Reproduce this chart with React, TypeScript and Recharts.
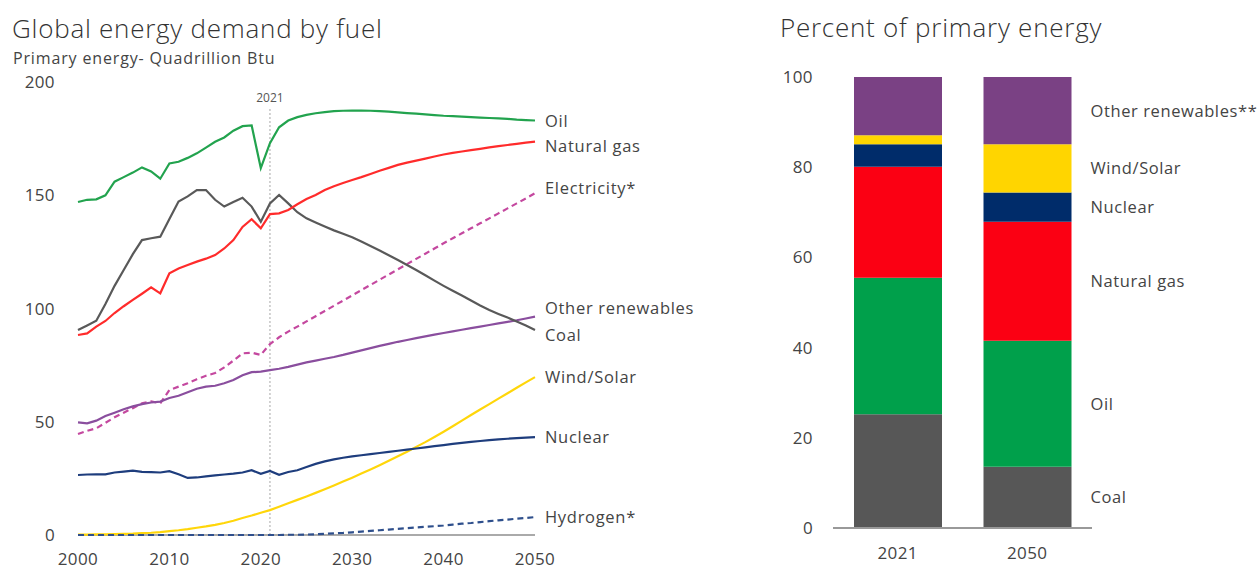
import React from 'react';
import { LineChart, Line, XAxis, YAxis, ReferenceLine, LabelList, BarChart, Bar } from 'recharts';

const years = [
  2000, 2001, 2002, 2003, 2004, 2005, 2006, 2007, 2008, 2009,
  2010, 2011, 2012, 2013, 2014, 2015, 2016, 2017, 2018, 2019,
  2020, 2021, 2022, 2023, 2024, 2025, 2026, 2027, 2028, 2029,
  2030, 2031, 2032, 2033, 2034, 2035, 2036, 2037, 2038, 2039,
  2040, 2041, 2042, 2043, 2044, 2045, 2046, 2047, 2048, 2049, 2050,
];

const oil = [
  147, 148, 148.2, 150, 156, 158, 160, 162.3, 160.5, 157.3,
  164, 164.8, 166.5, 168.5, 171, 173.6, 175.5, 178.5, 180.5, 180.8,
  162, 173, 180, 183, 184.5, 185.5, 186.2, 186.7, 187.1, 187.3,
  187.4, 187.4, 187.3, 187.1, 186.9, 186.6, 186.3, 186, 185.7, 185.4,
  185.1, 184.9, 184.7, 184.5, 184.3, 184.1, 183.9, 183.7, 183.4, 183.2, 183,
];

const naturalGas = [
  88.3, 89, 92, 94.5, 98, 101, 103.8, 106.5, 109.3, 106.7,
  115.5, 117.7, 119.2, 120.7, 122, 123.6, 126.5, 130.2, 136, 139.4,
  135.4, 141.7, 142, 143.5, 146, 148.3, 150.1, 152.3, 154, 155.4,
  156.7, 158, 159.4, 160.8, 162.1, 163.4, 164.4, 165.3, 166.2, 167.1,
  168, 168.7, 169.3, 169.9, 170.5, 171.1, 171.7, 172.2, 172.7, 173.2, 173.7,
];

const coal = [
  90.5, 92.5, 94.6, 102, 110, 117, 124, 130.2, 131, 131.7,
  139.5, 147.2, 149.5, 152.3, 152.3, 148, 145, 147, 148.9, 145,
  138.3, 146.4, 150.1, 146.4, 142.5, 139.8, 138, 136.2, 134.5, 133,
  131.5, 129.6, 127.6, 125.6, 123.5, 121.4, 119.2, 117, 114.7, 112.3,
  110, 107.8, 105.7, 103.5, 101.3, 99.3, 97.6, 96, 94.3, 92.5, 90.5,
];

const electricity = [
  44.6, 46, 47.1, 49.5, 52, 54, 56, 58.1, 59, 58.1,
  64, 65.5, 67, 68.8, 70.3, 71.5, 74, 77, 80.2, 80.5,
  79.5, 84.3, 87.3, 89.8, 92, 94.3, 96.6, 98.9, 101.2, 103.5,
  105.8, 108.1, 110.4, 112.7, 115, 117.3, 119.6, 121.9, 124.2, 126.5,
  128.8, 131, 133.2, 135.4, 137.6, 139.8, 142, 144.2, 146.4, 148.6, 150.9,
];

const otherRenewables = [
  49.7, 49.3, 50.5, 52.5, 54, 55.5, 56.8, 57.8, 58.5, 58.9,
  60.5, 61.5, 63, 64.6, 65.5, 65.9, 67, 68.4, 70.5, 71.9,
  72.1, 72.8, 73.4, 74.2, 75.2, 76.2, 77, 77.8, 78.6, 79.5,
  80.5, 81.5, 82.5, 83.5, 84.4, 85.3, 86.1, 86.9, 87.7, 88.5,
  89.2, 89.9, 90.6, 91.3, 92, 92.7, 93.4, 94.1, 94.8, 95.6, 96.4,
];

const windSolar = [
  0.2, 0.2, 0.3, 0.3, 0.4, 0.5, 0.6, 0.8, 1, 1.3,
  1.7, 2.1, 2.6, 3.2, 3.8, 4.5, 5.3, 6.3, 7.5, 8.6,
  9.8, 11, 12.5, 14, 15.5, 17, 18.6, 20.2, 21.9, 23.6,
  25.3, 27.1, 28.9, 30.8, 32.8, 34.8, 36.8, 38.9, 41, 43.3,
  45.6, 48, 50.5, 53, 55.4, 57.8, 60.2, 62.6, 65, 67.4, 69.7,
];

const nuclear = [
  26.5, 26.7, 26.8, 26.8, 27.6, 28, 28.4, 27.9, 27.8, 27.6,
  28.2, 26.8, 25.2, 25.4, 25.9, 26.3, 26.7, 27.1, 27.6, 28.6,
  27, 28.3, 26.6, 27.8, 28.6, 30, 31.4, 32.5, 33.4, 34.1,
  34.7, 35.2, 35.7, 36.2, 36.7, 37.2, 37.7, 38.2, 38.7, 39.2,
  39.7, 40.2, 40.7, 41.1, 41.5, 41.9, 42.2, 42.5, 42.8, 43, 43.2,
];

const hydrogen = [
  0, 0, 0, 0, 0, 0, 0, 0, 0, 0,
  0, 0, 0, 0, 0, 0, 0, 0, 0, 0,
  0, 0, 0, 0.1, 0.1, 0.2, 0.3, 0.5, 0.7, 0.9,
  1.2, 1.5, 1.8, 2.1, 2.4, 2.7, 3, 3.3, 3.6, 3.9,
  4.2, 4.6, 5, 5.3, 5.7, 6.1, 6.5, 6.8, 7.2, 7.5, 7.9,
];

const xTicks = [2000, 2010, 2020, 2030, 2040, 2050];
const yTicksLeft = [0, 50, 100, 150, 200];
const markerYear = 2021;
const markerTop = 189;

// Right chart data
const barCategories = ['2021', '2050'];
const coalShare = [25.2, 13.6];
const oilShare = [30.3, 27.9];
const gasShare = [24.6, 26.4];
const nuclearShare = [5.0, 6.5];
const windSolarShare = [2.0, 10.7];
const otherRenewShare = [12.9, 14.9];
const yTicksRight = [0, 20, 40, 60, 80, 100];

const lineData = years.map((year, i) => ({
  year,
  oil: oil[i],
  naturalGas: naturalGas[i],
  coal: coal[i],
  electricity: electricity[i],
  otherRenewables: otherRenewables[i],
  windSolar: windSolar[i],
  nuclear: nuclear[i],
  hydrogen: hydrogen[i],
}));

const barData = barCategories.map((cat, i) => ({
  cat,
  coal: coalShare[i],
  oil: oilShare[i],
  gas: gasShare[i],
  nuclear: nuclearShare[i],
  windSolar: windSolarShare[i],
  other: otherRenewShare[i],
}));

const FONT = '"Open Sans", Lato, sans-serif';
const TEXT = '#444';

const lineSeries = [
  { key: 'electricity', name: 'Electricity*', color: '#C4489F', dash: '6 4', dy: -5 },
  { key: 'windSolar', name: 'Wind/Solar', color: '#FFD60A', dash: undefined, dy: 0 },
  { key: 'nuclear', name: 'Nuclear', color: '#1E3D7D', dash: undefined, dy: 0 },
  { key: 'otherRenewables', name: 'Other renewables', color: '#8A4E9E', dash: undefined, dy: -9 },
  { key: 'coal', name: 'Coal', color: '#595959', dash: undefined, dy: 5 },
  { key: 'naturalGas', name: 'Natural gas', color: '#FF2B2B', dash: undefined, dy: 4 },
  { key: 'oil', name: 'Oil', color: '#22A34E', dash: undefined, dy: 0 },
  { key: 'hydrogen', name: 'Hydrogen*', color: '#2E4F8C', dash: '6 4', dy: 0 },
];

const barSeries = [
  { key: 'coal', name: 'Coal', color: '#575757' },
  { key: 'oil', name: 'Oil', color: '#00A04B' },
  { key: 'gas', name: 'Natural gas', color: '#FB0013' },
  { key: 'nuclear', name: 'Nuclear', color: '#002C6A' },
  { key: 'windSolar', name: 'Wind/Solar', color: '#FFD500' },
  { key: 'other', name: 'Other renewables**', color: '#7A4184' },
];

const makeLineLabel = (name: string, dy: number) => (props: any) => {
  const { x, y, index } = props;
  if (index !== years.length - 1) return <g />;
  return (
    <text
      x={Number(x) + 10}
      y={Number(y) + dy + 6}
      fill={TEXT}
      fontSize={16.5}
      letterSpacing={0.7}
      fontFamily={FONT}
    >
      {name}
    </text>
  );
};

const makeBarLabel = (name: string) => (props: any) => {
  const { x, y, width, height, index } = props;
  if (index !== barCategories.length - 1) return <g />;
  return (
    <text
      x={Number(x) + Number(width) + 19}
      y={Number(y) + Number(height) / 2 + 6}
      fill={TEXT}
      fontSize={16.5}
      letterSpacing={0.6}
      fontFamily={FONT}
    >
      {name}
    </text>
  );
};

const tickStyle = { fill: TEXT, fontSize: 17, fontFamily: FONT, letterSpacing: 0.4 };

export default function App() {
  return (
    <div style={{ position: 'absolute', left: 0, top: 0, width: 1257, height: 570, background: '#fff', fontFamily: FONT }}>
      <svg width={1257} height={570} style={{ position: 'absolute', left: 0, top: 0 }}>
        <text x={12} y={38} fontSize={26} fontWeight={300} letterSpacing={0.75} fill="#333" fontFamily={FONT}>
          Global energy demand by fuel
        </text>
        <text x={13} y={64} fontSize={16} letterSpacing={0.85} fill={TEXT} fontFamily={FONT}>
          Primary energy- Quadrillion Btu
        </text>
        <text x={780} y={37} fontSize={26} fontWeight={300} letterSpacing={0.75} fill="#333" fontFamily={FONT}>
          Percent of primary energy
        </text>
      </svg>

      <div style={{ position: 'absolute', left: 0, top: 0 }}>
        <LineChart
          width={700}
          height={570}
          data={lineData}
          margin={{ top: 82, right: 165, left: 0, bottom: 0 }}
          style={{ overflow: 'visible' }}
        >
          <XAxis
            dataKey="year"
            type="number"
            domain={[2000, 2050]}
            ticks={xTicks}
            height={35}
            tickSize={0}
            tickMargin={18}
            axisLine={false}
            tick={tickStyle}
          />
          <YAxis
            type="number"
            domain={[0, 200]}
            ticks={yTicksLeft}
            width={78}
            tickSize={0}
            tickMargin={23}
            axisLine={false}
            tick={tickStyle}
          />
          <ReferenceLine y={0} stroke="#aaa" strokeWidth={2} />
          <ReferenceLine
            segment={[{ x: markerYear, y: 0 }, { x: markerYear, y: markerTop }]}
            stroke="#c4c4c4"
            strokeWidth={1.5}
            strokeDasharray="2 2"
            label={{ value: String(markerYear), position: 'top', fill: '#555', fontSize: 12, fontFamily: FONT }}
          />
          {lineSeries.map((s) => (
            <Line
              key={s.key}
              dataKey={s.key}
              type="linear"
              stroke={s.color}
              strokeWidth={2.2}
              strokeDasharray={s.dash}
              dot={false}
              activeDot={false}
              isAnimationActive={false}
            >
              <LabelList dataKey={s.key} content={makeLineLabel(s.name, s.dy)} />
            </Line>
          ))}
        </LineChart>
      </div>

      <div style={{ position: 'absolute', left: 760, top: 0 }}>
        <BarChart
          width={497}
          height={570}
          data={barData}
          margin={{ top: 77, right: 165, left: 0, bottom: 0 }}
          barSize={88}
          style={{ overflow: 'visible' }}
        >
          <XAxis
            dataKey="cat"
            height={42}
            tickSize={0}
            tickMargin={19}
            axisLine={{ stroke: '#999', strokeWidth: 2 }}
            tick={tickStyle}
          />
          <YAxis
            type="number"
            domain={[0, 100]}
            ticks={yTicksRight}
            width={73}
            tickSize={0}
            tickMargin={20}
            axisLine={false}
            tick={tickStyle}
          />
          {barSeries.map((s) => (
            <Bar key={s.key} dataKey={s.key} stackId="a" fill={s.color} isAnimationActive={false}>
              <LabelList dataKey={s.key} content={makeBarLabel(s.name)} />
            </Bar>
          ))}
        </BarChart>
      </div>
    </div>
  );
}
